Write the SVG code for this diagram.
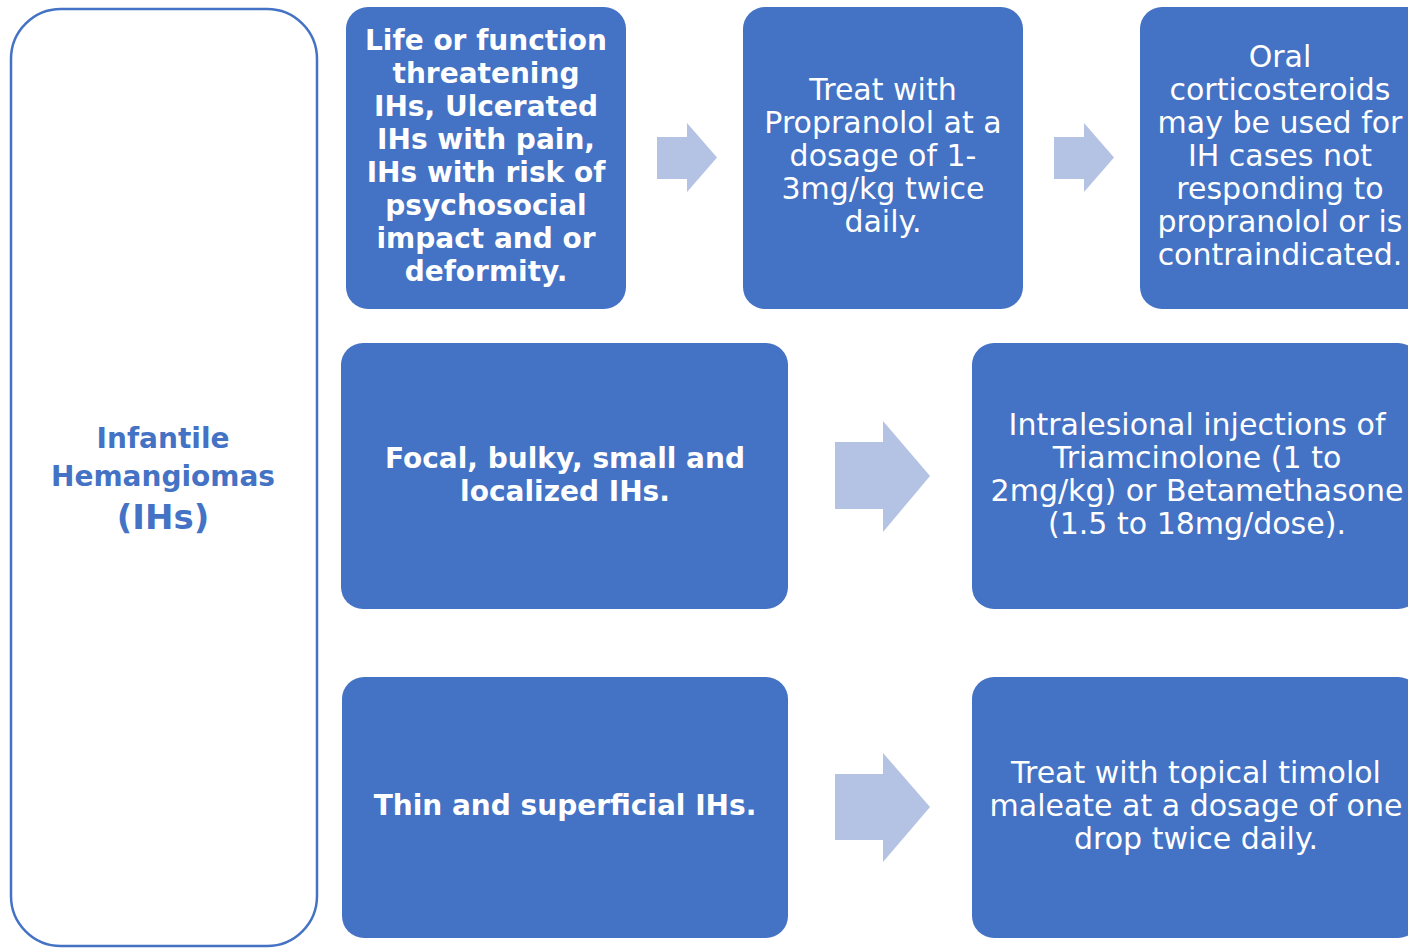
<svg xmlns="http://www.w3.org/2000/svg" width="1408" height="948" viewBox="0 0 1408 948">
<style>
.box{fill:#4472C4;}
.arr{fill:#B4C2E3;}
.b{font-family:"DejaVu Sans",sans-serif;font-weight:bold;font-size:28px;fill:#fff;text-anchor:middle;}
.r{font-family:"DejaVu Sans",sans-serif;font-size:30px;fill:#fff;text-anchor:middle;}
.lt{font-family:"DejaVu Sans",sans-serif;font-weight:bold;font-size:28px;fill:#4472C4;text-anchor:middle;}
</style>
<rect width="1408" height="948" fill="#fff"/>
<g id="ih">
<rect x="11" y="9" width="306" height="937" rx="50" fill="#fff" stroke="#4472C4" stroke-width="2.5"/>
<text class="lt" x="163" y="448">Infantile</text>
<text class="lt" x="163" y="486">Hemangiomas</text>
<text class="lt" x="163" y="529" style="font-size:34px">(IHs)</text>
</g>
<g id="n1">
<rect class="box" x="346" y="7" width="280" height="302" rx="22"/>
<text class="b" x="486" y="50">Life or function</text>
<text class="b" x="486" y="83">threatening</text>
<text class="b" x="486" y="116">IHs, Ulcerated</text>
<text class="b" x="486" y="149">IHs with pain,</text>
<text class="b" x="486" y="182">IHs with risk of</text>
<text class="b" x="486" y="215">psychosocial</text>
<text class="b" x="486" y="248">impact and or</text>
<text class="b" x="486" y="281">deformity.</text>
</g>
<g id="n2">
<rect class="box" x="743" y="7" width="280" height="302" rx="22"/>
<text class="r" x="883" y="100">Treat with</text>
<text class="r" x="883" y="133">Propranolol at a</text>
<text class="r" x="883" y="166">dosage of 1-</text>
<text class="r" x="883" y="199">3mg/kg twice</text>
<text class="r" x="883" y="232">daily.</text>
</g>
<g id="n3">
<rect class="box" x="1140" y="7" width="290" height="302" rx="22"/>
<text class="r" x="1280" y="67">Oral</text>
<text class="r" x="1280" y="100">corticosteroids</text>
<text class="r" x="1280" y="133">may be used for</text>
<text class="r" x="1280" y="166">IH cases not</text>
<text class="r" x="1280" y="199">responding to</text>
<text class="r" x="1280" y="232">propranolol or is</text>
<text class="r" x="1280" y="265">contraindicated.</text>
</g>
<g id="n4">
<rect class="box" x="341" y="343" width="447" height="266" rx="22"/>
<text class="b" x="565" y="468">Focal, bulky, small and</text>
<text class="b" x="565" y="501">localized IHs.</text>
</g>
<g id="n5">
<rect class="box" x="972" y="343" width="448" height="266" rx="22"/>
<text class="r" x="1197" y="435">Intralesional injections of</text>
<text class="r" x="1197" y="468">Triamcinolone (1 to</text>
<text class="r" x="1197" y="501">2mg/kg) or Betamethasone</text>
<text class="r" x="1197" y="534">(1.5 to 18mg/dose).</text>
</g>
<g id="n6">
<rect class="box" x="342" y="677" width="446" height="261" rx="22"/>
<text class="b" x="565" y="815">Thin and superficial IHs.</text>
</g>
<g id="n7">
<rect class="box" x="972" y="677" width="448" height="261" rx="22"/>
<text class="r" x="1196" y="783">Treat with topical timolol</text>
<text class="r" x="1196" y="816">maleate at a dosage of one</text>
<text class="r" x="1196" y="849">drop twice daily.</text>
</g>
<g id="connectors">
<polygon class="arr" points="657,137 687,137 687,123 717,157.5 687,192 687,179 657,179"/>
<polygon class="arr" points="1054,137 1084,137 1084,123 1114,157.5 1084,192 1084,179 1054,179"/>
<polygon class="arr" points="835,442 883,442 883,421 930,476 883,532 883,509 835,509"/>
<polygon class="arr" points="835,774 883,774 883,753 930,807 883,862 883,840 835,840"/>
</g>
</svg>
